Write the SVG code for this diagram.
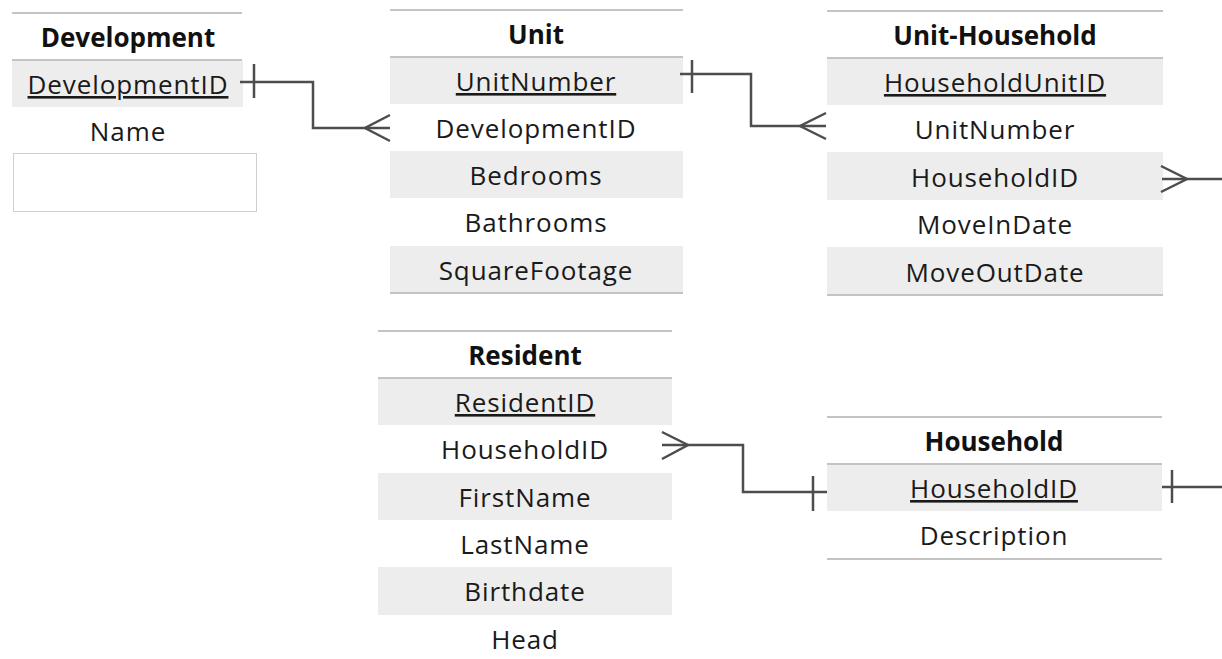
<svg xmlns="http://www.w3.org/2000/svg" width="1222" height="659" viewBox="0 0 1222 659">
<style>
.bg{fill:#ffffff}
.row{fill:#ededed}
.sep{stroke:#c4c4c4;stroke-width:2;fill:none}
.t{font-family:"Open Sans","Noto Sans",sans-serif;font-size:26px;letter-spacing:0.9px;fill:#1a1a1a;text-anchor:middle}
.h{font-weight:bold;fill:#111;letter-spacing:0}
.pk{text-decoration:underline}
.c{stroke:#4d4d4d;stroke-width:2.5;fill:none}
</style>
<rect class="bg" x="0" y="0" width="1222" height="659"/>

<g id="development">
  <line class="sep" x1="12" y1="13" x2="242" y2="13"/>
  <text class="t h" x="128" y="47">Development</text>
  <line class="sep" x1="12" y1="60" x2="242" y2="60"/>
  <rect class="row" x="12" y="61" width="231" height="46"/>
  <text class="t pk" x="128" y="94">DevelopmentID</text>
  <text class="t" x="128" y="141">Name</text>
  <rect x="13.5" y="153.5" width="243" height="58" fill="#fff" stroke="#cfcfcf" stroke-width="1"/>
</g>

<g id="unit">
  <line class="sep" x1="390" y1="10" x2="683" y2="10"/>
  <text class="t h" x="536" y="44">Unit</text>
  <line class="sep" x1="390" y1="57" x2="683" y2="57"/>
  <rect class="row" x="390" y="58" width="293" height="46"/>
  <rect class="row" x="390" y="151" width="293" height="47"/>
  <rect class="row" x="390" y="246" width="293" height="47"/>
  <text class="t pk" x="536" y="91">UnitNumber</text>
  <text class="t" x="536" y="138">DevelopmentID</text>
  <text class="t" x="536" y="185">Bedrooms</text>
  <text class="t" x="536" y="232">Bathrooms</text>
  <text class="t" x="536" y="280">SquareFootage</text>
  <line class="sep" x1="390" y1="293" x2="683" y2="293"/>
</g>

<g id="unit-household">
  <line class="sep" x1="827" y1="11" x2="1163" y2="11"/>
  <text class="t h" x="995" y="45">Unit-Household</text>
  <line class="sep" x1="827" y1="58" x2="1163" y2="58"/>
  <rect class="row" x="827" y="59" width="336" height="46"/>
  <rect class="row" x="827" y="152" width="336" height="48"/>
  <rect class="row" x="827" y="247" width="336" height="48"/>
  <text class="t pk" x="995" y="92">HouseholdUnitID</text>
  <text class="t" x="995" y="139">UnitNumber</text>
  <text class="t" x="995" y="187">HouseholdID</text>
  <text class="t" x="995" y="234">MoveInDate</text>
  <text class="t" x="995" y="282">MoveOutDate</text>
  <line class="sep" x1="827" y1="295" x2="1163" y2="295"/>
</g>

<g id="resident">
  <line class="sep" x1="378" y1="331" x2="672" y2="331"/>
  <text class="t h" x="525" y="365">Resident</text>
  <line class="sep" x1="378" y1="378" x2="672" y2="378"/>
  <rect class="row" x="378" y="379" width="294" height="46"/>
  <rect class="row" x="378" y="473" width="294" height="47"/>
  <rect class="row" x="378" y="567" width="294" height="48"/>
  <text class="t pk" x="525" y="412">ResidentID</text>
  <text class="t" x="525" y="459">HouseholdID</text>
  <text class="t" x="525" y="507">FirstName</text>
  <text class="t" x="525" y="554">LastName</text>
  <text class="t" x="525" y="601">Birthdate</text>
  <text class="t" x="525" y="649">Head</text>
</g>

<g id="household">
  <line class="sep" x1="827" y1="417" x2="1162" y2="417"/>
  <text class="t h" x="994" y="451">Household</text>
  <line class="sep" x1="827" y1="464" x2="1162" y2="464"/>
  <rect class="row" x="827" y="465" width="335" height="46"/>
  <text class="t pk" x="994" y="498">HouseholdID</text>
  <text class="t" x="994" y="545">Description</text>
  <line class="sep" x1="827" y1="559" x2="1162" y2="559"/>
</g>

<g id="connectors">
  <path class="c" d="M240,82 H313 V128 H390"/>
  <path class="c" d="M254,64 V98"/>
  <path class="c" d="M390,115 L365,128 L390,141"/>

  <path class="c" d="M680,74 H751 V126 H826"/>
  <path class="c" d="M692,60 V93"/>
  <path class="c" d="M826,113 L800,126 L826,139"/>

  <path class="c" d="M1162,179 H1222"/>
  <path class="c" d="M1161,166 L1187,179 L1161,192"/>

  <path class="c" d="M662,445 H743 V492 H827"/>
  <path class="c" d="M662,432 L688,445 L662,459"/>
  <path class="c" d="M813,476 V511"/>

  <path class="c" d="M1162,487 H1222"/>
  <path class="c" d="M1172,470 V503"/>
</g>
</svg>
